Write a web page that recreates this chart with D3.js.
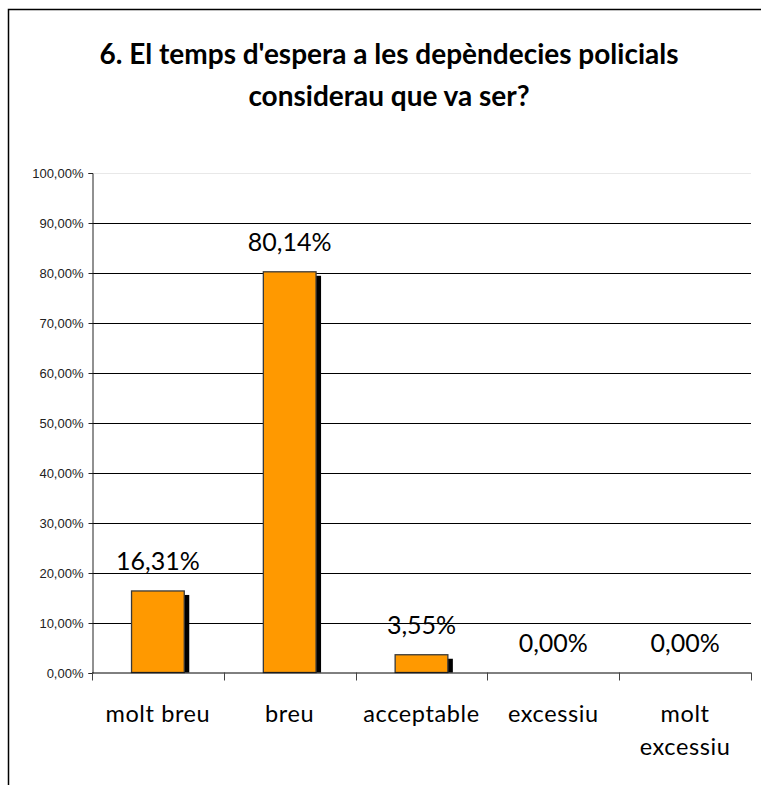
<!DOCTYPE html>
<html><head><meta charset="utf-8">
<script src="https://cdn.jsdelivr.net/npm/d3@7"></script>
<style>body{margin:0;background:#fff}svg{display:block}</style>
</head><body>
<svg id="c" width="761" height="785"></svg>
<script>
const titleLines = ["6. El temps d'espera a les depèndecies policials", "considerau que va ser?"];
const categories = ["molt breu", "breu", "acceptable", "excessiu", "molt excessiu"];
const categoryLines = [["molt breu"], ["breu"], ["acceptable"], ["excessiu"], ["molt", "excessiu"]];
const values = [16.31, 80.14, 3.55, 0.00, 0.00];
const valueLabels = ["16,31%", "80,14%", "3,55%", "0,00%", "0,00%"];
const yTicks = [0, 10, 20, 30, 40, 50, 60, 70, 80, 90, 100];
const yTickLabels = ["0,00%", "10,00%", "20,00%", "30,00%", "40,00%", "50,00%", "60,00%", "70,00%", "80,00%", "90,00%", "100,00%"];

const svg = d3.select("#c");
const m = {left: 92, right: 751, top: 172.5, bottom: 672.5};

// outer border
svg.append("path").attr("d", "M8.5,785 V9.5 H761").attr("fill", "none").attr("stroke", "#000").attr("stroke-width", 1.5);

// title
const title = svg.append("text").attr("text-anchor", "middle")
  .attr("font-family", "Lato, 'Open Sans', sans-serif").attr("font-weight", "bold")
  .attr("font-size", 28).attr("fill", "#000");
titleLines.forEach((t, i) => title.append("tspan").attr("x", 389).attr("y", 64 + i * 42).text(t));

const x = d3.scaleBand().domain(categories).range([m.left, m.right]).paddingInner(0).paddingOuter(0);
const y = d3.scaleLinear().domain([0, 100]).range([m.bottom, m.top]);

// gridlines
svg.append("g").selectAll("line").data(yTicks.filter(d => d > 0)).join("line")
  .attr("x1", m.left).attr("x2", m.right)
  .attr("y1", d => Math.round(y(d)) + 0.5).attr("y2", d => Math.round(y(d)) + 0.5)
  .attr("stroke", d => d === 100 ? "#e8e8e8" : "#000").attr("stroke-width", 1);

// y axis
const yAxis = d3.axisLeft(y).tickValues(yTicks).tickSize(4).tickPadding(5)
  .tickFormat((d, i) => yTickLabels[i]);
const ga = svg.append("g").attr("transform", `translate(${m.left + 0.5},0.5)`).call(yAxis);
ga.select(".domain").attr("stroke", "#222");
ga.selectAll(".tick line").attr("stroke", "#222");
ga.selectAll(".tick text").attr("font-family", "'Liberation Sans', Arial, sans-serif").attr("font-size", 13).attr("fill", "#222");

// bars
const bw = x.bandwidth() * 0.4;
const bars = svg.append("g");
const bx = c => x(c) + (x.bandwidth() - bw) / 2;
const barData = values.map((v, i) => ({v, c: categories[i]})).filter(d => d.v > 0);
bars.selectAll("rect.sh").data(barData).join("rect")
  .attr("class", "sh")
  .attr("x", d => bx(d.c) + 5).attr("y", d => y(d.v) + 4)
  .attr("width", bw).attr("height", d => Math.max(0, m.bottom - y(d.v) - 4))
  .attr("fill", "#000");
bars.selectAll("rect.b").data(barData).join("rect")
  .attr("class", "b")
  .attr("x", d => bx(d.c)).attr("y", d => y(d.v))
  .attr("width", bw).attr("height", d => m.bottom - y(d.v))
  .attr("fill", "#FF9900").attr("stroke", "#3a3a3a").attr("stroke-width", 1.3);

// x axis
const xb = svg.append("g");
xb.append("line").attr("x1", m.left).attr("x2", m.right).attr("y1", m.bottom + 0.5).attr("y2", m.bottom + 0.5).attr("stroke", "#000");
const bounds = categories.map(c => x(c)).concat([m.right]);
xb.selectAll("line.t").data(bounds).join("line").attr("class", "t")
  .attr("x1", d => Math.round(d) + 0.5).attr("x2", d => Math.round(d) + 0.5)
  .attr("y1", m.bottom).attr("y2", m.bottom + 8).attr("stroke", "#444");

// category labels
categoryLines.forEach((lines, i) => {
  const t = svg.append("text").attr("text-anchor", "middle")
    .attr("font-family", "Lato, 'Open Sans', sans-serif").attr("font-size", 23.5).attr("fill", "#000")
    .attr("letter-spacing", 0.6);
  lines.forEach((l, j) => t.append("tspan").attr("x", x(categories[i]) + x.bandwidth() / 2).attr("y", 722 + j * 33).text(l));
});

// value labels
svg.append("g").selectAll("text").data(values).join("text")
  .attr("x", (d, i) => x(categories[i]) + x.bandwidth() / 2)
  .attr("y", d => y(d) - 21)
  .attr("text-anchor", "middle")
  .attr("font-family", "Lato, 'Open Sans', sans-serif").attr("font-size", 25).attr("fill", "#000")
  .text((d, i) => valueLabels[i]);
</script>
</body></html>
